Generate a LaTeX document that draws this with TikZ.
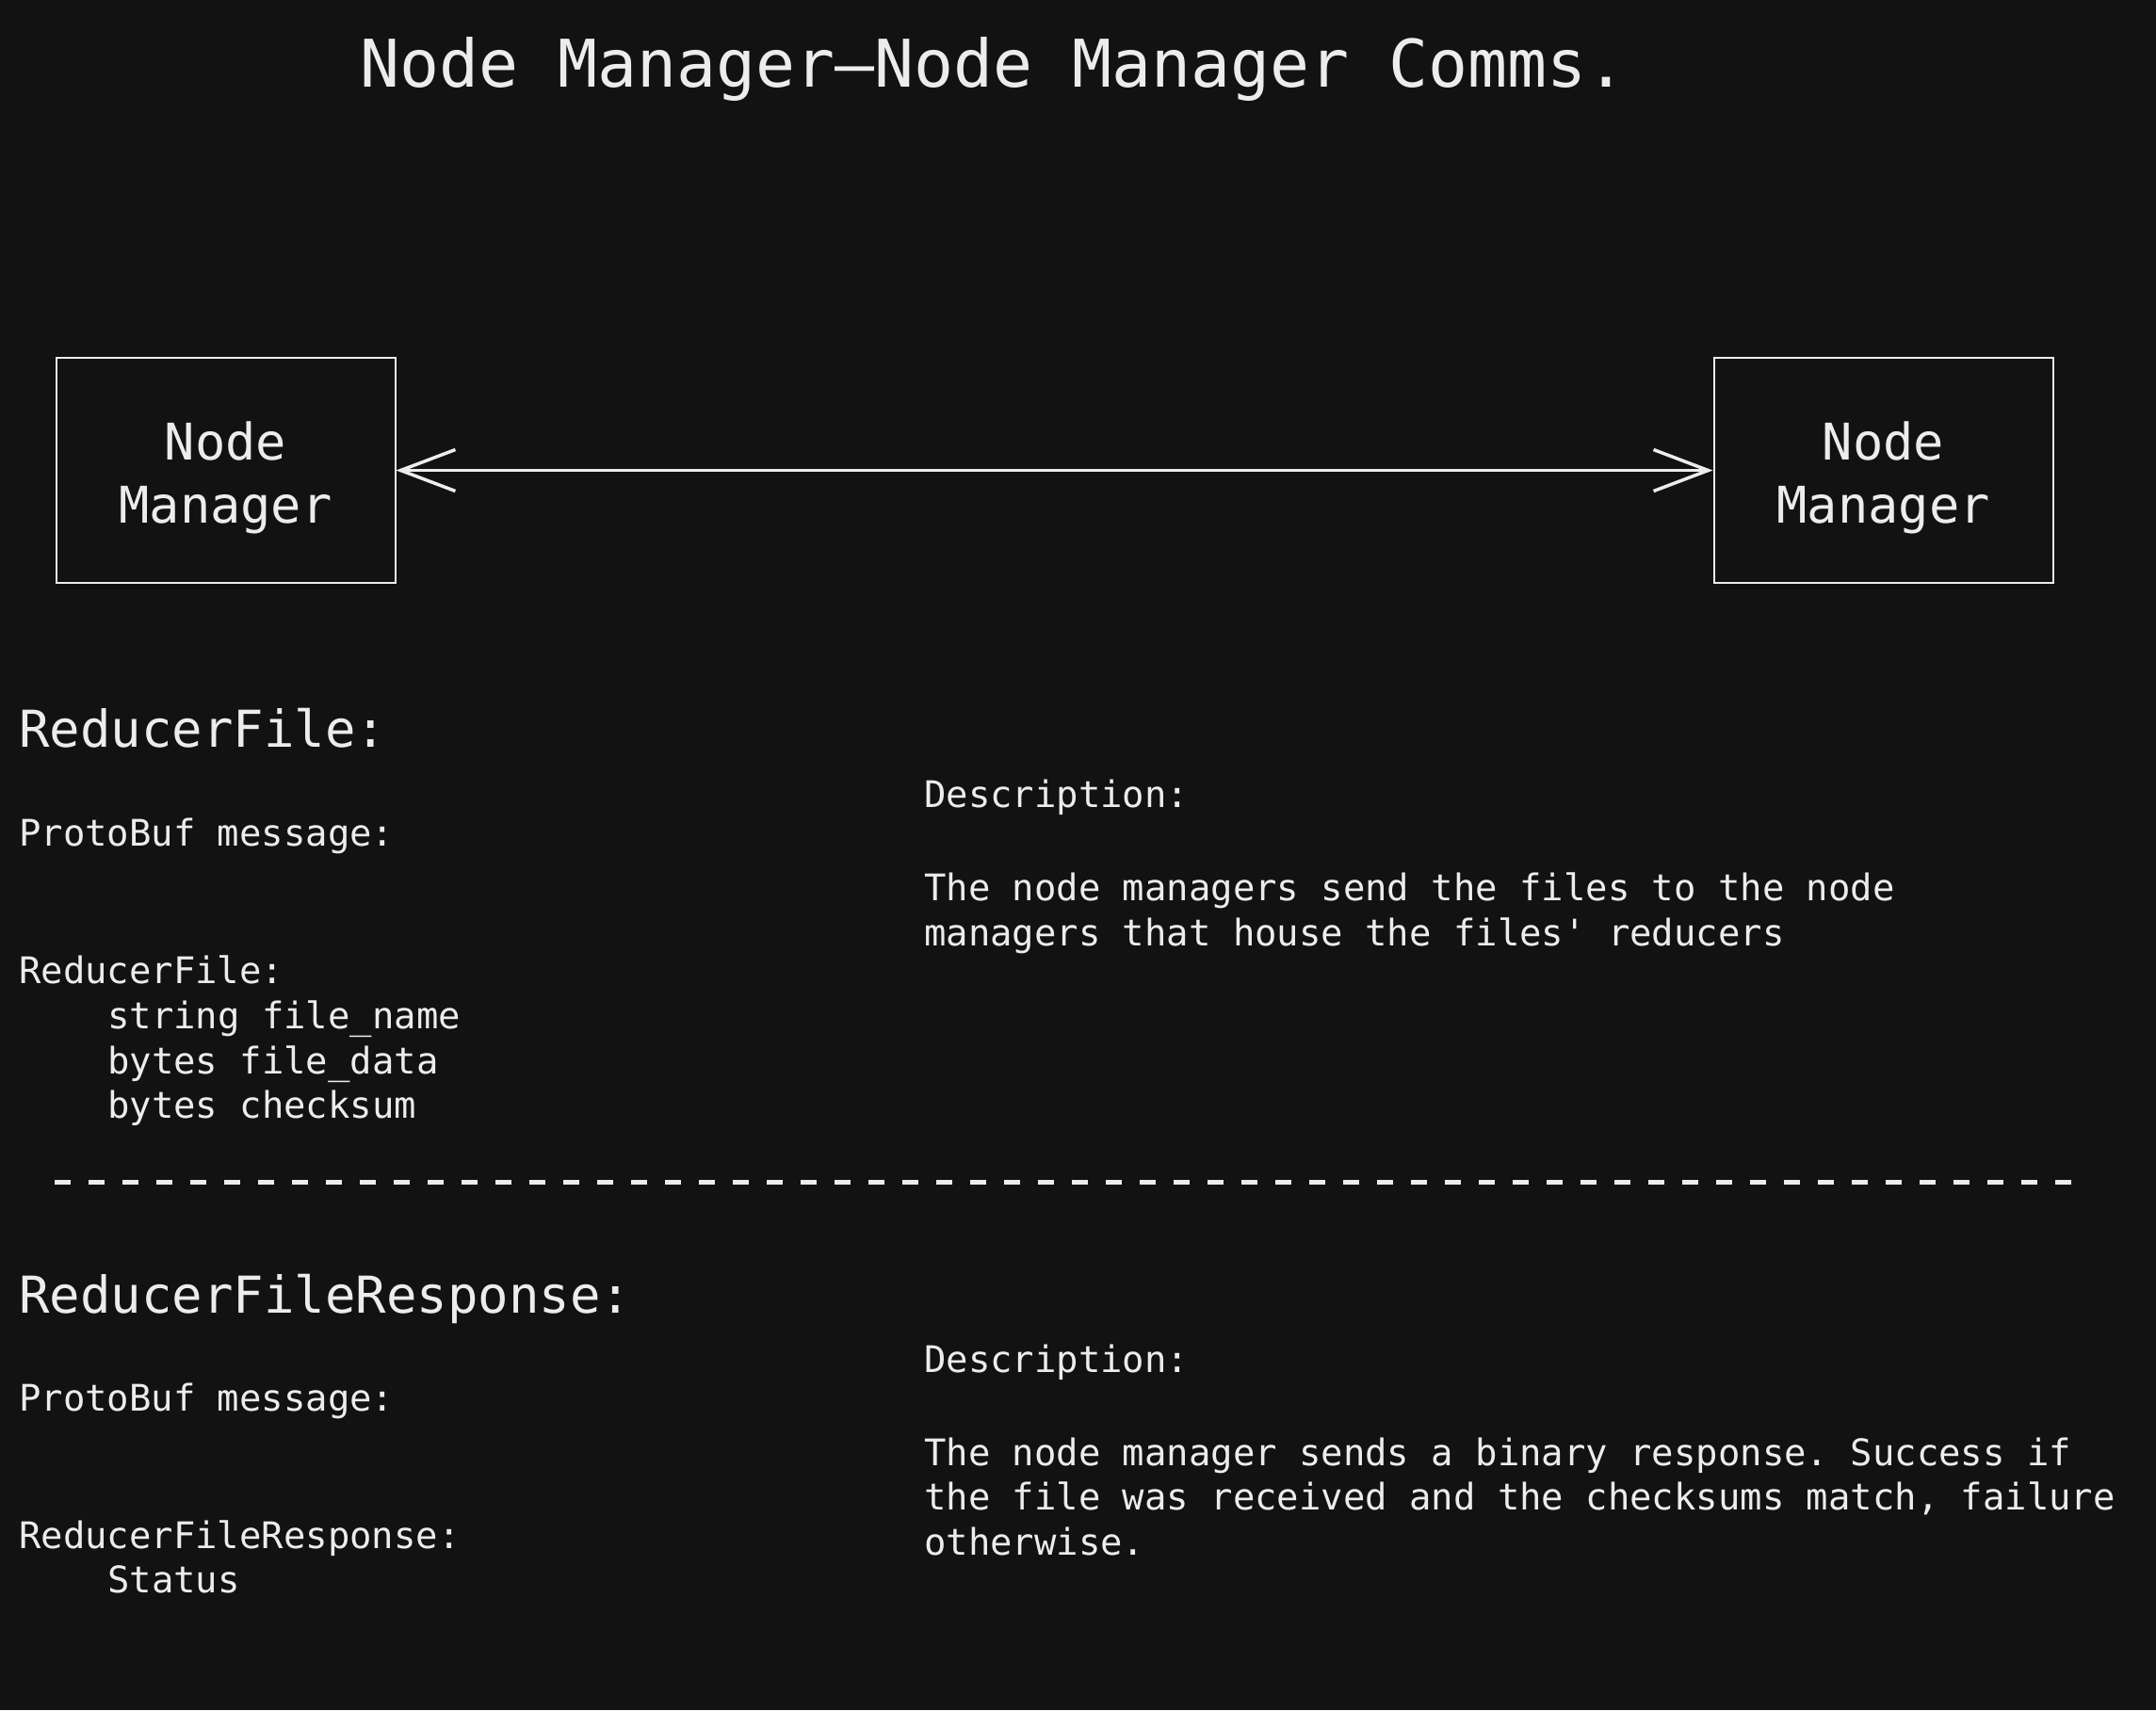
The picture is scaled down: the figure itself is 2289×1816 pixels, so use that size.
\documentclass[tikz,border=0pt]{standalone}
\usepackage{fontspec}
\setmonofont{DejaVu Sans Mono}
\usetikzlibrary{arrows.meta}
\definecolor{bg}{HTML}{121212}
\definecolor{fg}{HTML}{ECECEC}
\tikzset{
  txt/.style={anchor=base west, inner sep=0pt, text=fg, font=\ttfamily\fontsize{38.9}{48.3}\selectfont},
  head/.style={txt, font=\ttfamily\fontsize{54}{67}\selectfont},
  ttl/.style={txt, font=\ttfamily\fontsize{69.8}{84}\selectfont},
  mgr/.style={draw=fg, line width=2pt, minimum width=360pt, minimum height=239pt, inner sep=0pt},
  mgrtxt/.style={inner sep=0pt, align=center, text=fg, font=\ttfamily\fontsize{53.7}{67}\selectfont},
  link/.style={draw=fg, line width=3.5pt, {Straight Barb[length=58pt,width=44pt]}-{Straight Barb[length=58pt,width=44pt]}},
  sep/.style={draw=fg, line width=5pt, dash pattern=on 17pt off 19pt},
}
\begin{document}
\begin{tikzpicture}[x=1pt,y=-1pt]
\fill[bg] (0,0) rectangle (2289,1816);
\useasboundingbox (0,0) rectangle (2289,1816);

\node[ttl] (title) at (382,92) {Node Manager—Node Manager Comms.};

\node[mgr] (nmA) at (239.5,499.5) {};
\node[mgr] (nmB) at (1999.5,499.5) {};
\node[mgrtxt] (nmAt) at ([yshift=-8pt]nmA.center) {Node\\Manager};
\node[mgrtxt] (nmBt) at ([yshift=-8pt]nmB.center) {Node\\Manager};
\draw[link] (nmA.east) -- (nmB.west);

% Section 1
\node[head] (h1) at (20,793) {ReducerFile:};
\node[txt] (d1) at (981,857) {Description:};
\node[txt] (p1) at (20,898) {ProtoBuf message:};
\node[txt] (d1a) at (981,956) {The node managers send the files to the node};
\node[txt] (d1b) at (981,1004) {managers that house the files' reducers};
\node[txt] (s1) at (20,1044) {ReducerFile:};
\node[txt] (s1a) at (114,1092) {string file\_name};
\node[txt] (s1b) at (114,1140) {bytes file\_data};
\node[txt] (s1c) at (114,1187) {bytes checksum};

\coordinate (dA) at (58,1255);
\coordinate (dB) at (2201,1255);
\draw[sep] (dA) -- (dB);

% Section 2
\node[head] (h2) at (20,1394) {ReducerFileResponse:};
\node[txt] (d2) at (981,1457) {Description:};
\node[txt] (p2) at (20,1498) {ProtoBuf message:};
\node[txt] (d2a) at (981,1556) {The node manager sends a binary response. Success if};
\node[txt] (d2b) at (981,1603) {the file was received and the checksums match, failure};
\node[txt] (d2c) at (981,1651) {otherwise.};
\node[txt] (s2) at (20,1644) {ReducerFileResponse:};
\node[txt] (s2a) at (114,1691) {Status};
\end{tikzpicture}
\end{document}
